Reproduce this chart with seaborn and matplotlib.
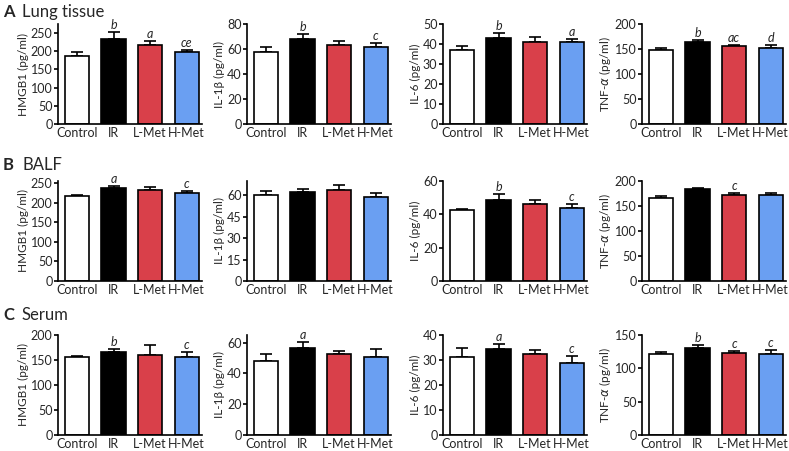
import numpy as np
import pandas as pd
import matplotlib
matplotlib.use("Agg")
import matplotlib.pyplot as plt
import seaborn as sns

sns.set_theme(style="ticks")
plt.rcParams['font.family'] = ['Lato', 'DejaVu Sans']
plt.rcParams['mathtext.fontset'] = 'dejavusans'

groups = ["Control", "IR", "L-Met", "H-Met"]
colors = ["#ffffff", "#000000", "#d9404a", "#6a9ff2"]

row_titles = [("A", "Lung tissue"), ("B", "BALF"), ("C", "Serum")]
ylabels = ["HMGB1 (pg/ml)", "IL-1\u03b2 (pg/ml)", "IL-6 (pg/ml)", "TNF-$\\alpha$ (pg/ml)"]

# Lung tissue
lung_hmgb1 = [187, 234, 218, 197]
lung_hmgb1_err = [11, 19, 11, 6]
lung_il1b = [57.6, 68, 63, 61.5]
lung_il1b_err = [4.3, 4.3, 3.4, 3.5]
lung_il6 = [36.8, 43, 40.8, 40.8]
lung_il6_err = [2.2, 2.4, 2.5, 1.8]
lung_tnf = [149, 164, 155.5, 153]
lung_tnf_err = [2.5, 4, 3, 5]

# BALF
balf_hmgb1 = [216, 237.5, 232, 224.5]
balf_hmgb1_err = [3, 5.5, 7, 4.5]
balf_il1b = [60, 62, 63.7, 58.8]
balf_il1b_err = [3, 2.5, 3.5, 2.5]
balf_il6 = [42.4, 48.8, 46.3, 43.9]
balf_il6_err = [0.9, 3.2, 2.2, 2.2]
balf_tnf = [166, 184, 172.5, 172]
balf_tnf_err = [4.5, 1.2, 3, 4.5]

# Serum
ser_hmgb1 = [155.5, 166, 161, 155.5]
ser_hmgb1_err = [2.5, 5.5, 19, 10.5]
ser_il1b = [48.2, 56.6, 52.6, 50.8]
ser_il1b_err = [4.4, 3.6, 1.7, 5.2]
ser_il6 = [31.2, 34.4, 32.4, 29.0]
ser_il6_err = [3.6, 1.9, 1.7, 2.6]
ser_tnf = [121, 130.5, 123, 121.5]
ser_tnf_err = [3, 5, 3, 5.5]

values = [[lung_hmgb1, lung_il1b, lung_il6, lung_tnf],
          [balf_hmgb1, balf_il1b, balf_il6, balf_tnf],
          [ser_hmgb1, ser_il1b, ser_il6, ser_tnf]]
errors = [[lung_hmgb1_err, lung_il1b_err, lung_il6_err, lung_tnf_err],
          [balf_hmgb1_err, balf_il1b_err, balf_il6_err, balf_tnf_err],
          [ser_hmgb1_err, ser_il1b_err, ser_il6_err, ser_tnf_err]]
letters = [[["", "b", "a", "ce"], ["", "b", "", "c"], ["", "b", "", "a"], ["", "b", "ac", "d"]],
           [["", "a", "", "c"], ["", "", "", ""], ["", "b", "", "c"], ["", "", "c", ""]],
           [["", "b", "", "c"], ["", "a", "", ""], ["", "a", "", "c"], ["", "b", "c", "c"]]]
ylims = [[275, 80, 50, 200], [255, 70, 60, 200], [200, 65, 40, 150]]
yticks = [[[0, 50, 100, 150, 200, 250], [0, 20, 40, 60, 80], [0, 10, 20, 30, 40, 50], [0, 50, 100, 150, 200]],
          [[0, 50, 100, 150, 200, 250], [0, 15, 30, 45, 60], [0, 20, 40, 60], [0, 50, 100, 150, 200]],
          [[0, 50, 100, 150, 200], [0, 20, 40, 60], [0, 10, 20, 30, 40], [0, 50, 100, 150]]]

W, H = 789, 451
fig = plt.figure(figsize=(W / 100, H / 100), dpi=100)

col_left = [58, 247, 443, 642]
col_w = 144
row_top = [24, 181, 335]
row_h = 100
title_y = [12, 165, 315]

for r in range(3):
    fig.text(3 / W, 1 - title_y[r] / H, row_titles[r][0], fontsize=12, fontweight="bold",
             va="center", ha="left")
    fig.text(22 / W, 1 - title_y[r] / H, row_titles[r][1], fontsize=12,
             va="center", ha="left")
    for c in range(4):
        ax = fig.add_axes([col_left[c] / W, 1 - (row_top[r] + row_h) / H, col_w / W, row_h / H])
        df = pd.DataFrame({"group": groups, "value": values[r][c]})
        sns.barplot(data=df, x="group", y="value", hue="group", palette=colors,
                    order=groups, hue_order=groups, legend=False, errorbar=None,
                    saturation=1, width=0.66, edgecolor="black", linewidth=1.2, ax=ax, zorder=2)
        x = np.arange(len(groups))
        v = np.array(values[r][c])
        e = np.array(errors[r][c])
        ax.errorbar(x, v, yerr=[np.zeros_like(e), e], fmt="none", ecolor="black",
                    elinewidth=1.2, capsize=4, capthick=1.2, zorder=1)
        ymax = ylims[r][c]
        for i, t in enumerate(letters[r][c]):
            if t:
                ax.text(x[i], v[i] + e[i] + ymax * 0.01, t, ha="center", va="bottom",
                        fontsize=9, style="italic")
        ax.set_ylim(0, ymax)
        ax.set_xlim(-0.52, 3.42)
        ax.set_yticks(yticks[r][c])
        ax.set_xlabel("")
        ax.set_ylabel(ylabels[c], fontsize=8.5, labelpad=1)
        ax.tick_params(axis="both", labelsize=9, length=3, width=1.2, pad=1, color="black")
        ax.tick_params(axis="x", length=0, pad=2)
        for s in ["top", "right"]:
            ax.spines[s].set_visible(False)
        for s in ["left", "bottom"]:
            ax.spines[s].set_linewidth(1.2)
            ax.spines[s].set_color("black")
        ax.set_facecolor("none")

fig.savefig("out.png", dpi=100, facecolor="white")
